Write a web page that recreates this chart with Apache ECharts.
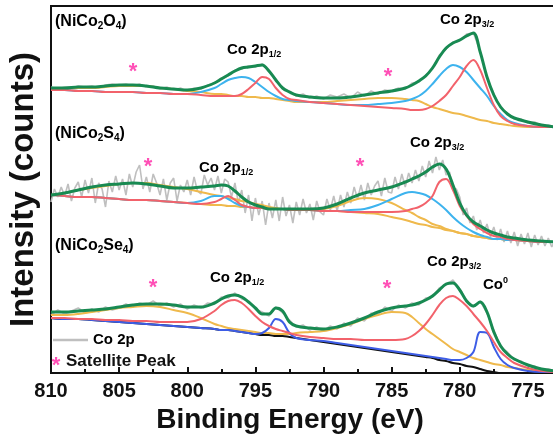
<!DOCTYPE html>
<html>
<head>
<meta charset="utf-8">
<script src="https://cdn.jsdelivr.net/npm/echarts@6/dist/echarts.min.js"></script>
<style>
  html, body { margin: 0; padding: 0; background: #fff; }
  #chart { width: 553px; height: 439px; }
</style>
</head>
<body>
<div id="chart"></div>
<script>
// Co 2p XPS spectra of NiCo2O4, NiCo2S4 and NiCo2Se4 (stacked, arbitrary intensity offsets)

// Energy grid of the measured oxide and selenide spectra (eV)
const rawEnergy = [810,809.5,809,808.5,808,807.5,807,806.5,806,805.5,805,804.5,804,803.5,803,802.5,802,801.5,801,800.5,
  800,799.5,799,798.5,798,797.5,797,796.5,796,795.5,795,794.5,794,793.5,793,792.5,792,791.5,791,790.5,
  790,789.5,789,788.5,788,787.5,787,786.5,786,785.5,785,784.5,784,783.5,783,782.5,782,781.5,781,780.5,
  780,779.5,779,778.5,778,777.5,777,776.5,776,775.5,775,774.5,774,773.5,773];

// Finer energy grid of the (noisier) sulfide spectrum (eV)
const rawEnergyFine = [
  810,809.75,809.5,809.25, 809,808.75,808.5,808.25, 808,807.75,807.5,807.25, 807,806.75,806.5,806.25,
  806,805.75,805.5,805.25, 805,804.75,804.5,804.25, 804,803.75,803.5,803.25, 803,802.75,802.5,802.25,
  802,801.75,801.5,801.25, 801,800.75,800.5,800.25, 800,799.75,799.5,799.25, 799,798.75,798.5,798.25,
  798,797.75,797.5,797.25, 797,796.75,796.5,796.25, 796,795.75,795.5,795.25, 795,794.75,794.5,794.25,
  794,793.75,793.5,793.25, 793,792.75,792.5,792.25, 792,791.75,791.5,791.25, 791,790.75,790.5,790.25,
  790,789.75,789.5,789.25, 789,788.75,788.5,788.25, 788,787.75,787.5,787.25, 787,786.75,786.5,786.25,
  786,785.75,785.5,785.25, 785,784.75,784.5,784.25, 784,783.75,783.5,783.25, 783,782.75,782.5,782.25,
  782,781.75,781.5,781.25, 781,780.75,780.5,780.25, 780,779.75,779.5,779.25, 779,778.75,778.5,778.25,
  778,777.75,777.5,777.25, 777,776.75,776.5,776.25, 776,775.75,775.5,775.25, 775,774.75,774.5,774.25,
  774,773.75,773.5,773.25, 773];

// Energy grid of the fitted curves (eV)
const fitEnergy = [810,809,808,807,806,805,804,803,802,801,800,799,798,797.5,797,796.5,796,795.5,795,794.5,
  794,793.5,793,792.5,792,791,790,789,788,787,786,785,784,783.5,783,782.5,782,781.5,781,780.5,
  780,779.5,779,778.5,778,777.5,777,776.5,776,775,774,773];

// NiCo2O4
const oxideRaw = [286,284,286,285,287,286,287,285,288,289,288,289,287,289,286,287,284,286,283,285,
  282,285,284,288,290,295,297,303,304,307,306,309,301,294,284,282,277,279,275,277,
  274,278,276,279,275,281,277,282,279,283,282,285,284,290,291,298,304,318,324,331,
  332,339,340,322,295,279,265,260,254,254,250,251,247,248,246];
const oxideEnvelope = [285,285,286,286,287,288,288,287,285,284,283,285,290,294,298,302,305,306,307,308,
  302,293,285,281,278,276,275,275,276,278,280,282,285,288,292,297,305,316,325,330,
  333,337,340,321,296,278,266,259,255,251,248,246];
const oxidePeakA = [283,283,282,282,281,281,281,280,280,279,279,278,277,277,277,277,279,284,290,296,
  294,285,278,274,273,271,270,269,268,267,266,265,264,263,263,264,267,272,278,287,
  296,307,313,303,285,268,257,252,249,247,246,246];
const oxidePeakB = [283,283,282,282,281,281,281,280,280,279,279,281,285,289,293,295,296,295,291,286,
  281,277,274,273,272,271,270,269,268,268,269,270,272,274,277,282,289,297,304,308,
  306,301,293,285,277,267,259,253,250,247,246,246];
const oxideSatellite = [284,284,285,285,286,287,287,287,285,284,282,281,279,279,278,277,277,276,276,275,
  275,274,273,272,271,271,271,272,273,274,275,275,274,273,272,269,266,264,262,260,
  259,257,255,253,252,250,249,248,247,246,246,246];

// NiCo2S4
const sulfideRaw = [
  171,184,176,186, 177,189,172,185, 191,176,193,180, 195,170,190,184,
  166,192,181,197, 183,194,178,199, 186,201,208,184, 196,181,199,190,
  178,194,173,190, 195,172,188,181, 193,178,196,182, 179,198,188,195,
  183,197,180,194, 191,176,190,170, 183,160,178,152, 175,158,172,148,
  170,155,173,152, 176,157,168,150, 171,158,174,160, 169,153,172,161,
  158,174,163,177, 162,178,166,181, 170,186,174,188, 173,190,178,187,
  192,177,195,181, 180,196,184,199, 186,200,190,203, 192,207,196,212,
  200,216,203,213, 198,201,185,184, 176,158,165,150, 157,143,153,140,
  149,136,146,133, 144,131,142,130, 141,127,139,129, 140,126,138,128,
  137,127,135,126, 133];
const sulfideEnvelope = [178,180,183,186,188,189,190,189,187,185,185,186,187,188,187,182,176,171,168,166,
  164,164,164,164,164,164,165,169,175,180,183,186,191,194,197,201,206,209,204,188,
  170,158,151,147,143,140,138,136,135,133,132,131];
const sulfidePeakA = [178,177,176,176,175,174,173,173,172,171,170,169,171,174,177,173,168,166,165,165,
  164,164,164,163,163,163,162,162,161,161,161,161,162,164,166,170,177,191,194,183,
  167,157,149,144,140,137,136,134,133,132,131,131];
const sulfidePeakB = [178,177,176,176,175,174,173,173,172,171,170,172,177,177,174,170,167,166,165,165,
  164,164,164,163,163,163,162,162,163,164,168,174,180,181,180,178,174,169,163,156,
  150,145,141,138,136,134,134,133,133,132,131,131];
const sulfideSatellite = [178,180,183,185,187,189,190,190,188,186,184,181,178,177,175,174,172,171,169,168,
  166,165,164,164,163,163,164,167,172,175,174,170,163,160,156,153,149,147,144,142,
  140,139,137,136,135,134,134,133,133,132,131,131];
const sulfideBackground = [178,177,176,176,175,174,173,173,172,171,170,169,168,168,167,167,166,166,165,165,
  164,164,164,163,163,163,162,162,161,160,159,156,153,151,149,148,146,145,143,142,
  140,139,137,136,135,134,134,133,133,132,131,131];

// NiCo2Se4
const selenideRaw = [58,63,59,62,65,60,64,61,66,63,65,69,66,70,68,72,67,70,66,69,
  64,68,65,70,69,76,75,80,74,72,64,61,57,66,60,53,46,48,43,46,
  42,47,44,50,47,55,52,60,58,66,62,68,65,70,68,75,76,85,88,93,
  84,73,66,72,60,43,26,21,13,12,7,7,3,4,2];
const selenideEnvelope = [61,61,62,63,64,66,68,69,69,68,66,66,70,74,77,78,76,71,65,59,
  59,65,62,51,47,45,44,46,50,55,61,65,67,68,70,73,77,83,89,90,
  83,72,67,71,61,41,27,19,14,8,4,2];
const selenidePeakA = [55,55,54,54,53,53,52,52,51,51,51,54,62,68,72,73,70,64,57,51,
  47,44,42,40,38,36,35,34,34,33,33,33,34,37,42,49,58,68,75,77,
  73,67,59,51,42,31,21,15,10,5,2,1];
const selenideMetal = [55,54,54,53,52,51,50,49,48,47,46,45,44,43,43,42,41,40,39,40,
  45,54,51,40,35,33,32,30,28,26,24,22,20,19,18,17,16,15,14,13,
  13,15,21,41,40,26,14,8,5,2,1,1];
const selenideSatellite = [58,58,59,61,63,65,66,67,66,63,60,55,49,47,45,44,43,42,41,40,
  40,39,39,39,40,41,42,45,49,54,58,61,60,56,50,44,39,34,29,24,
  21,18,15,13,11,9,8,6,5,3,2,1];
const selenideBackground = [55,54,54,53,52,51,50,49,48,47,46,45,44,43,43,42,41,40,39,38,
  38,37,37,36,35,33,31,29,27,25,23,21,19,18,17,16,15,13,12,10,
  9,7,6,4,2,1,0,0,0,0,0,0];

// x-axis tick values
const energyTicks = [810, 805, 800, 795, 790, 785, 780, 775];

const FONT = '"Liberation Sans", Arial, Helvetica, sans-serif';
const C = {
  raw: '#bfbfbf', envelope: '#188a52', red: '#f2626b', lightBlue: '#3db3ee',
  orange: '#efb94c', darkBlue: '#3d5de6', black: '#111111', star: '#ff4fb6'
};

function zip(xs, ys) { return xs.map((x, i) => [x, ys[i]]); }

function curve(energies, values, color, width, z, smooth) {
  return {
    type: 'line', data: zip(energies, values), symbol: 'none', showSymbol: false,
    smooth: smooth, lineStyle: { color: color, width: width }, z: z, silent: true,
    animation: false
  };
}
function rawCurve(energies, values) { return curve(energies, values, C.raw, 1.6, 1, false); }
function fit(values, color, width, z) { return curve(fitEnergy, values, color, width, z, 0.35); }

const series = [
  rawCurve(rawEnergy, oxideRaw), rawCurve(rawEnergyFine, sulfideRaw), rawCurve(rawEnergy, selenideRaw),
  fit(selenideBackground, C.black, 2, 2),
  fit(sulfideBackground, C.orange, 2, 2),
  fit(oxideSatellite, C.orange, 2, 3),
  fit(sulfideSatellite, C.orange, 2, 3),
  fit(selenideSatellite, C.orange, 2, 3),
  fit(oxidePeakB, C.lightBlue, 2, 4),
  fit(sulfidePeakB, C.lightBlue, 2, 4),
  fit(selenideMetal, C.darkBlue, 2, 4),
  fit(oxidePeakA, C.red, 2, 5),
  fit(sulfidePeakA, C.red, 2, 5),
  fit(selenidePeakA, C.red, 2, 5),
  fit(oxideEnvelope, C.envelope, 3, 6),
  fit(sulfideEnvelope, C.envelope, 3, 6),
  fit(selenideEnvelope, C.envelope, 3, 6)
];

const richStyles = {
  m: { fontFamily: FONT, fontWeight: 'bold', fontSize: 15, color: '#111' },
  s: { fontFamily: FONT, fontWeight: 'bold', fontSize: 9, color: '#111', padding: [9, 0, 0, 0] },
  p: { fontFamily: FONT, fontWeight: 'bold', fontSize: 9, color: '#111', padding: [0, 0, 9, 0] },
  n: { fontFamily: FONT, fontWeight: 'bold', fontSize: 16, color: '#111' },
  ns: { fontFamily: FONT, fontWeight: 'bold', fontSize: 10, color: '#111', padding: [9, 0, 0, 0] }
};

function textEl(x, y, text) {
  return { type: 'text', x: x, y: y, z: 100, silent: true,
    style: { text: text, rich: richStyles, align: 'left', verticalAlign: 'middle' } };
}
function star(x, y) {
  return { type: 'text', x: x, y: y, z: 100, silent: true,
    style: { text: '*', fill: C.star, font: 'bold 22px ' + FONT, align: 'center', verticalAlign: 'middle' } };
}

const graphics = [
  textEl(55, 22, '{n|(NiCo}{ns|2}{n|O}{ns|4}{n|)}'),
  textEl(55, 134, '{n|(NiCo}{ns|2}{n|S}{ns|4}{n|)}'),
  textEl(55, 246, '{n|(NiCo}{ns|2}{n|Se}{ns|4}{n|)}'),
  textEl(227, 50, '{m|Co 2p}{s|1/2}'),
  textEl(440, 20, '{m|Co 2p}{s|3/2}'),
  textEl(199, 168, '{m|Co 2p}{s|1/2}'),
  textEl(410, 143, '{m|Co 2p}{s|3/2}'),
  textEl(210, 278, '{m|Co 2p}{s|1/2}'),
  textEl(427, 262, '{m|Co 2p}{s|3/2}'),
  textEl(483, 285, '{m|Co}{p|0}'),
  star(133, 72), star(388, 77), star(148, 167), star(360, 167), star(153, 288), star(387, 289),
  // legend
  { type: 'line', silent: true, z: 100, shape: { x1: 53, y1: 340, x2: 88, y2: 340 },
    style: { stroke: C.raw, lineWidth: 2.5 } },
  textEl(93, 340, '{m|Co 2p}'),
  star(56, 366),
  { type: 'text', x: 66, y: 361, z: 100, silent: true,
    style: { text: 'Satellite Peak', font: 'bold 17px ' + FONT, fill: '#111', align: 'left', verticalAlign: 'middle' } },
  // axis title
  { type: 'text', x: 290, y: 420, z: 100, silent: true,
    style: { text: 'Binding Energy (eV)', font: 'bold 28px ' + FONT, fill: '#111', align: 'center', verticalAlign: 'middle' } }
];

const chart = echarts.init(document.getElementById('chart'), null, { renderer: 'canvas' });
chart.setOption({
  animation: false,
  backgroundColor: '#fff',
  grid: {
    left: 51, width: 545, top: 6, height: 367, show: true, borderColor: '#111', borderWidth: 2,
    containLabel: false, outerBoundsMode: 'none'
  },
  xAxis: {
    type: 'value', inverse: true, min: 770, max: 810, interval: 5,
    axisLine: { show: true, lineStyle: { color: '#111', width: 2 } },
    axisTick: { show: true, inside: true, length: 6, lineStyle: { color: '#111', width: 2 } },
    minorTick: { show: true, splitNumber: 2, length: 4, lineStyle: { color: '#111', width: 2 } },
    splitLine: { show: false },
    axisLabel: {
      color: '#111', fontFamily: FONT, fontWeight: 'bold', fontSize: 20, margin: 8,
      formatter: v => (energyTicks.indexOf(v) >= 0 ? String(v) : '')
    }
  },
  yAxis: {
    type: 'value', min: 0, max: 367,
    name: 'Intensity (counts)', nameLocation: 'middle', nameGap: 11,
    nameTextStyle: { color: '#111', fontFamily: FONT, fontWeight: 'bold', fontSize: 33 },
    axisLine: { show: true, lineStyle: { color: '#111', width: 2 } },
    axisTick: { show: false }, axisLabel: { show: false }, splitLine: { show: false }
  },
  series: series,
  graphic: graphics
});
</script>
</body>
</html>
